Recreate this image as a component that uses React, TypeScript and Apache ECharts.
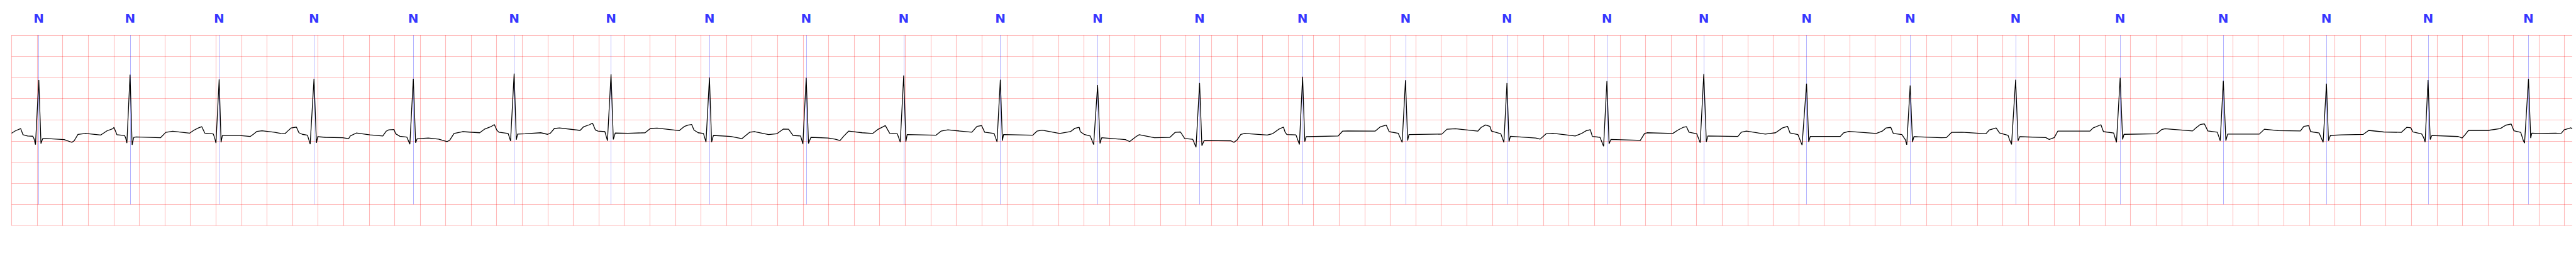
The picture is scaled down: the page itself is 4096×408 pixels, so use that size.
import React, { useEffect, useRef } from "react";
import * as echarts from "echarts";

// ECG trace: [time (s), amplitude (mV)]
const ecgPoints: [number, number][] = [
  [0, 0.184], [0.029, 0.239], [0.071, 0.293], [0.089, 0.148], [0.125, 0.119], [0.166, 0.112], [0.175, 0.058],
  [0.187, -0.087], [0.213, 1.443], [0.23, -0.061], [0.244, 0.058], [0.268, 0.058], [0.412, 0.033], [0.472, -0.033],
  [0.49, 0.004], [0.52, 0.156], [0.58, 0.177], [0.699, 0.141], [0.747, 0.239], [0.795, 0.293], [0.802, 0.322],
  [0.825, 0.148], [0.885, 0.13], [0.893, 0.076], [0.903, -0.051], [0.928, 1.57], [0.944, -0.094], [0.957, 0.083],
  [0.975, 0.094], [1.166, 0.076], [1.208, 0.203], [1.262, 0.228], [1.394, 0.184], [1.43, 0.257], [1.466, 0.311],
  [1.49, 0.336], [1.514, 0.184], [1.58, 0.166], [1.592, 0.058], [1.601, -0.051], [1.626, 1.458], [1.641, -0.033],
  [1.651, 0.13], [1.787, 0.13],
  [1.869, 0.106], [1.895, 0.162], [1.922, 0.227], [1.962, 0.242], [2.056, 0.207], [2.11, 0.177], [2.14, 0.169],
  [2.164, 0.237], [2.191, 0.308], [2.231, 0.328], [2.251, 0.194], [2.278, 0.157], [2.318, 0.136], [2.339, -0.076],
  [2.369, 1.47], [2.388, -0.045], [2.398, 0.101], [2.459, 0.086], [2.593, 0.076], [2.641, 0.056], [2.653, 0.119],
  [2.7, 0.187], [2.808, 0.144], [2.908, 0.119], [2.935, 0.232], [2.955, 0.263], [2.996, 0.27], [3.009, 0.169],
  [3.042, 0.111], [3.096, 0.093], [3.12, -0.076], [3.147, 1.47], [3.165, -0.045], [3.177, 0.051], [3.264, 0.068],
  [3.345, 0.043], [3.412, -0.015], [3.432, 0.018], [3.466, 0.177], [3.533, 0.22], [3.667, 0.194], [3.707, 0.283],
  [3.76, 0.346], [3.782, 0.389], [3.801, 0.258], [3.817, 0.207], [3.89, 0.177],
  [3.909, 0.0], [3.937, 1.596], [3.954, 0.03], [3.964, 0.162], [4.024, 0.169], [4.145, 0.194], [4.199, 0.157],
  [4.219, 0.177], [4.252, 0.295], [4.292, 0.308], [4.454, 0.25], [4.48, 0.333], [4.527, 0.384], [4.551, 0.422],
  [4.574, 0.258], [4.594, 0.232], [4.648, 0.22], [4.668, 0.005], [4.696, 1.576], [4.714, 0.035], [4.729, 0.187],
  [4.829, 0.182], [4.963, 0.194], [5.004, 0.295], [5.057, 0.303], [5.231, 0.245], [5.272, 0.346], [5.299, 0.376],
  [5.328, 0.389], [5.346, 0.258], [5.379, 0.194], [5.42, 0.177], [5.44, -0.025], [5.467, 1.5], [5.484, -0.025],
  [5.498, 0.131], [5.634, 0.106], [5.722, 0.056], [5.782, 0.207], [5.822, 0.22], [5.93, 0.152], [5.994, 0.169],
  [6.047, 0.283], [6.087, 0.278], [6.121, 0.131], [6.181, 0.119], [6.199, -0.071], [6.225, 1.495], [6.243, -0.058],
  [6.262, 0.086], [6.396, 0.068], [6.45, 0.043], [6.49, 0.01], [6.517, 0.106], [6.557, 0.232], [6.664, 0.194],
  [6.745, 0.177], [6.785, 0.27], [6.845, 0.364], [6.879, 0.182], [6.939, 0.169], [6.962, -0.025], [6.989, 1.551],
  [7.006, -0.015], [7.016, 0.152], [7.241, 0.136], [7.281, 0.232], [7.335, 0.263], [7.523, 0.207], [7.563, 0.346],
  [7.599, 0.364], [7.623, 0.207], [7.697, 0.177], [7.72, -0.02], [7.746, 1.449], [7.762, 0.005], [7.771, 0.152],
  [7.999, 0.136], [8.033, 0.232], [8.073, 0.257],
  [8.211, 0.177], [8.295, 0.221], [8.331, 0.3], [8.364, 0.322], [8.372, 0.221], [8.402, 0.156], [8.45, 0.119],
  [8.477, -0.087], [8.508, 1.324], [8.527, -0.058], [8.54, 0.076], [8.726, 0.033], [8.759, -0.014], [8.81, 0.105],
  [8.834, 0.148], [8.953, 0.076], [9.073, 0.083], [9.115, 0.203], [9.157, 0.213], [9.19, 0.058], [9.253, 0.04],
  [9.279, -0.148], [9.307, 1.371], [9.325, -0.112], [9.343, 0.011], [9.552, 0.004], [9.576, -0.033], [9.6, 0.022],
  [9.63, 0.156], [9.66, 0.177], [9.837, 0.141],
  [9.877, 0.169], [9.93, 0.283], [9.964, 0.328], [9.977, 0.207], [9.991, 0.152], [10.062, 0.144], [10.075, 0.035],
  [10.089, -0.083], [10.114, 1.52], [10.131, -0.015], [10.142, 0.101], [10.393, 0.119], [10.427, 0.232],
  [10.467, 0.237], [10.682, 0.232], [10.722, 0.333], [10.769, 0.376], [10.792, 0.22], [10.863, 0.182],
  [10.894, -0.033], [10.92, 1.439], [10.937, 0.01], [10.947, 0.152], [11.205, 0.162], [11.245, 0.278],
  [11.312, 0.288], [11.486, 0.232], [11.513, 0.321], [11.547, 0.379], [11.581, 0.346], [11.594, 0.232],
  [11.667, 0.169], [11.691, -0.033], [11.715, 1.369], [11.731, -0.015], [11.742, 0.111], [11.94, 0.068],
  [11.975, 0.043], [12.021, 0.169], [12.075, 0.182], [12.25, 0.119], [12.303, 0.182], [12.337, 0.245],
  [12.368, 0.265], [12.384, 0.106], [12.444, 0.086], [12.472, -0.126], [12.498, 1.414], [12.515, -0.066],
  [12.529, 0.035], [12.733, 0.018], [12.759, 0.01], [12.793, 0.177], [12.813, 0.194], [13.014, 0.177],
  [13.054, 0.258], [13.095, 0.321], [13.121, 0.338], [13.141, 0.207], [13.202, 0.169], [13.229, -0.04],
  [13.257, 1.583], [13.277, -0.02], [13.289, 0.119], [13.524, 0.106], [13.551, 0.207], [13.591, 0.232],
  [13.739, 0.162], [13.819, 0.194], [13.873, 0.308], [13.913, 0.346], [13.933, 0.187], [13.994, 0.152],
  [14.027, -0.096],
  [14.062, 1.356], [14.079, -0.02], [14.091, 0.106], [14.326, 0.106], [14.353, 0.194], [14.393, 0.227],
  [14.608, 0.177], [14.655, 0.232], [14.686, 0.308], [14.722, 0.321], [14.742, 0.177], [14.809, 0.152],
  [14.836, 0.03], [14.847, -0.091], [14.874, 1.313], [14.892, -0.025], [14.903, 0.101], [15.118, 0.076],
  [15.158, 0.081], [15.198, 0.202], [15.279, 0.207], [15.467, 0.169], [15.493, 0.258], [15.547, 0.308],
  [15.574, 0.187], [15.641, 0.131], [15.652, 0.03], [15.668, -0.083], [15.7, 1.449], [15.719, 0.005],
  [15.732, 0.101], [15.936, 0.081], [15.963, 0.035], [16.003, 0.081], [16.03, 0.232], [16.148, 0.232],
  [16.281, 0.232], [16.307, 0.308], [16.368, 0.384], [16.388, 0.22], [16.468, 0.187], [16.49, -0.033],
  [16.519, 1.495], [16.538, 0.035], [16.549, 0.157], [16.804, 0.169], [16.844, 0.27], [16.871, 0.288],
  [17.086, 0.237], [17.113, 0.308], [17.146, 0.389], [17.179, 0.404], [17.206, 0.237], [17.28, 0.207],
  [17.303, 0.005], [17.327, 1.424], [17.347, 0.005], [17.361, 0.162], [17.609, 0.162], [17.649, 0.278],
  [17.757, 0.245], [17.931, 0.237], [17.958, 0.346], [17.996, 0.364], [18.011, 0.22], [18.078, 0.187],
  [18.109, -0.033], [18.135, 1.356], [18.151, 0.005], [18.166, 0.131], [18.25, 0.144],
  [18.424, 0.156], [18.466, 0.25], [18.583, 0.213], [18.721, 0.203], [18.764, 0.322], [18.796, 0.311],
  [18.812, 0.213], [18.881, 0.166], [18.897, 0.076], [18.908, -0.025], [18.931, 1.443], [18.948, 0.033],
  [18.961, 0.13], [19.168, 0.105], [19.198, 0.069], [19.216, 0.13], [19.248, 0.25], [19.402, 0.25],
  [19.497, 0.293], [19.54, 0.373], [19.582, 0.401], [19.604, 0.239], [19.657, 0.203], [19.678, 0.004],
  [19.687, -0.051], [19.718, 1.468], [19.735, 0.069], [19.744, 0.184], [19.795, 0.177], [19.976, 0.184],
  [19.997, 0.264], [20.05, 0.311], [20.06, 0.286],
];

// Beat annotations (time of each annotated beat, s) and their symbols
const beatTimes: number[] = [
  0.213, 0.928, 1.626, 2.369, 3.147, 3.937, 4.696, 5.467, 6.225, 6.989, 7.746, 8.508, 9.307,
  10.114, 10.92, 11.715, 12.498, 13.257, 14.062, 14.874, 15.7, 16.519, 17.327, 18.135, 18.931, 19.718,
];
const beatLabels: string[] = [
  "N", "N", "N", "N", "N", "N", "N", "N", "N", "N", "N", "N", "N",
  "N", "N", "N", "N", "N", "N", "N", "N", "N", "N", "N", "N", "N",
];

// Axis ranges (ECG paper: 0.2 s by 0.5 mV)
const xMin = 0;
const xMax = 20.06;
const xInterval = 0.2;
const yMin = -2;
const yMax = 2.5;
const yInterval = 0.5;
const markerLow = -1.5;
const markerHigh = 2.5;

export default function App() {
  const ref = useRef<HTMLDivElement>(null);

  useEffect(() => {
    document.body.style.margin = "0";
    const chart = echarts.init(ref.current as HTMLDivElement, null, { renderer: "svg" });
    const gridLine = { color: "rgba(255,0,0,0.28)", width: 1.1 };
    chart.setOption({
      animation: false,
      backgroundColor: "#ffffff",
      grid: { left: 18.46, right: 6.1, top: 56, bottom: 50 },
      xAxis: {
        type: "value",
        min: xMin,
        max: xMax,
        interval: xInterval,
        axisLine: { show: false },
        axisTick: { show: false },
        axisLabel: { show: false },
        splitLine: { show: true, showMinLine: true, showMaxLine: false, lineStyle: gridLine },
      },
      yAxis: {
        type: "value",
        min: yMin,
        max: yMax,
        interval: yInterval,
        axisLine: { show: false },
        axisTick: { show: false },
        axisLabel: { show: false },
        splitLine: { show: true, showMinLine: true, showMaxLine: true, lineStyle: gridLine },
      },
      series: [
        {
          type: "lines",
          coordinateSystem: "cartesian2d",
          z: 2,
          silent: true,
          lineStyle: { color: "#0000ff", opacity: 0.5, width: 0.6 },
          data: beatTimes.map((t) => ({ coords: [[t, markerLow], [t, markerHigh]] })),
        },
        {
          type: "line",
          z: 3,
          silent: true,
          showSymbol: false,
          symbol: "none",
          lineStyle: { color: "#000000", width: 1.3 },
          data: ecgPoints,
        },
        {
          type: "scatter",
          z: 4,
          silent: true,
          clip: false,
          symbol: "circle",
          symbolSize: 1,
          itemStyle: { color: "rgba(0,0,0,0)" },
          data: beatTimes.map((t) => [t, markerHigh]),
          label: {
            show: true,
            position: "top",
            distance: 17,
            formatter: (p: any) => beatLabels[p.dataIndex],
            color: "#0000ff",
            fontSize: 20,
            fontWeight: "bold",
            fontFamily: "DejaVu Sans",
          },
        },
      ],
    });
    return () => {
      chart.dispose();
    };
  }, []);

  return (
    <div
      ref={ref}
      style={{ position: "fixed", left: 0, top: 0, width: "4096px", height: "408px" }}
    />
  );
}
